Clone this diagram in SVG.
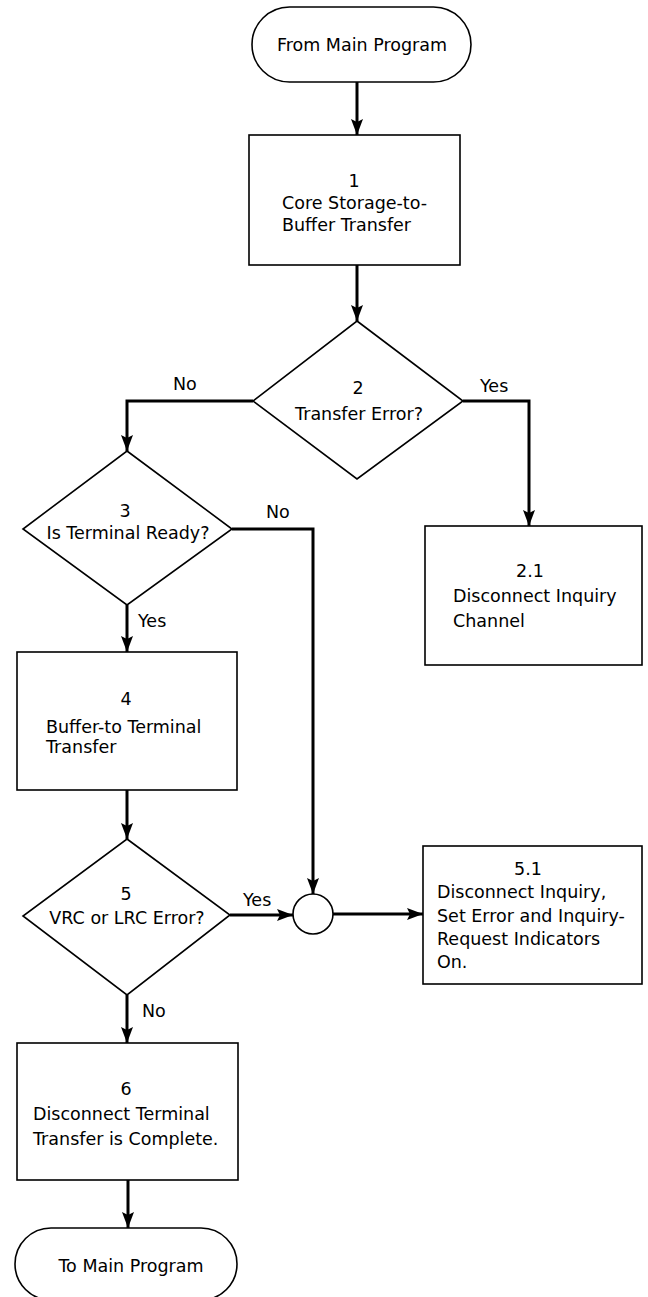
<svg xmlns="http://www.w3.org/2000/svg" width="648" height="1297" viewBox="0 0 648 1297">
<style>
.shape{fill:#fff;stroke:#000;stroke-width:1.6}
.conn{fill:none;stroke:#000;stroke-width:3}
text{font-family:"DejaVu Sans","Liberation Sans",sans-serif;font-size:17.5px;fill:#000}
.c{text-anchor:middle}
</style>
<defs>
<marker id="arr" markerUnits="userSpaceOnUse" markerWidth="16" markerHeight="12" refX="16" refY="6" orient="auto">
<path d="M0,0 L16,6 L0,12 L3,6 z" fill="#000"/>
</marker>
</defs>
<rect width="648" height="1297" fill="#fff"/>
<g id="connectors">
<path class="conn" d="M357,82 V135" marker-end="url(#arr)"/>
<path class="conn" d="M357,265 V321" marker-end="url(#arr)"/>
<path class="conn" d="M253,401 H127 V451" marker-end="url(#arr)"/>
<path class="conn" d="M463,401 H529 V526" marker-end="url(#arr)"/>
<path class="conn" d="M232,529 H313 V894" marker-end="url(#arr)"/>
<path class="conn" d="M127,605 V652" marker-end="url(#arr)"/>
<path class="conn" d="M127,790 V839" marker-end="url(#arr)"/>
<path class="conn" d="M230,915 H293" marker-end="url(#arr)"/>
<path class="conn" d="M333,914 H423" marker-end="url(#arr)"/>
<path class="conn" d="M127,995 V1043" marker-end="url(#arr)"/>
<path class="conn" d="M128,1180 V1228" marker-end="url(#arr)"/>
<text x="173" y="390">No</text>
<text x="480" y="392">Yes</text>
<text x="266" y="518">No</text>
<text x="138" y="627">Yes</text>
<text x="243" y="906">Yes</text>
<text x="142" y="1017">No</text>
</g>
<g id="start">
<rect class="shape" x="252" y="7" width="219" height="75" rx="37.5"/>
<text class="c" x="362" y="51">From Main Program</text>
</g>
<g id="n1">
<rect class="shape" x="249" y="135" width="211" height="130"/>
<text class="c" x="354" y="187">1</text>
<text x="282" y="209">Core Storage-to-</text>
<text x="282" y="231">Buffer Transfer</text>
</g>
<g id="n2">
<path class="shape" d="M357,321 L463,401 L357,479 L253,401 Z"/>
<text class="c" x="358" y="394">2</text>
<text class="c" x="359" y="420">Transfer Error?</text>
</g>
<g id="n2_1">
<rect class="shape" x="425" y="526" width="217" height="139"/>
<text class="c" x="530" y="577">2.1</text>
<text x="453" y="602">Disconnect Inquiry</text>
<text x="453" y="627">Channel</text>
</g>
<g id="n3">
<path class="shape" d="M127,451 L232,529 L127,605 L23,529 Z"/>
<text class="c" x="125" y="517">3</text>
<text class="c" x="128" y="539">Is Terminal Ready?</text>
</g>
<g id="n4">
<rect class="shape" x="17" y="652" width="220" height="138"/>
<text class="c" x="126" y="705">4</text>
<text x="46" y="733">Buffer-to Terminal</text>
<text x="46" y="753">Transfer</text>
</g>
<g id="n5">
<path class="shape" d="M127,839 L230,915 L127,995 L23,916 Z"/>
<text class="c" x="126" y="900">5</text>
<text class="c" x="127" y="924">VRC or LRC Error?</text>
</g>
<g id="connector_circle">
<circle class="shape" cx="313" cy="914" r="20"/>
</g>
<g id="n5_1">
<rect class="shape" x="423" y="846" width="219" height="138"/>
<text class="c" x="528" y="875">5.1</text>
<text x="437" y="898">Disconnect Inquiry,</text>
<text x="437" y="922">Set Error and Inquiry-</text>
<text x="437" y="945">Request Indicators</text>
<text x="437" y="968">On.</text>
</g>
<g id="n6">
<rect class="shape" x="17" y="1043" width="221" height="137"/>
<text class="c" x="126" y="1095">6</text>
<text x="33" y="1120">Disconnect Terminal</text>
<text x="33" y="1145">Transfer is Complete.</text>
</g>
<g id="end">
<rect class="shape" x="15" y="1228" width="222" height="72" rx="36"/>
<text class="c" x="131" y="1272">To Main Program</text>
</g>
</svg>
